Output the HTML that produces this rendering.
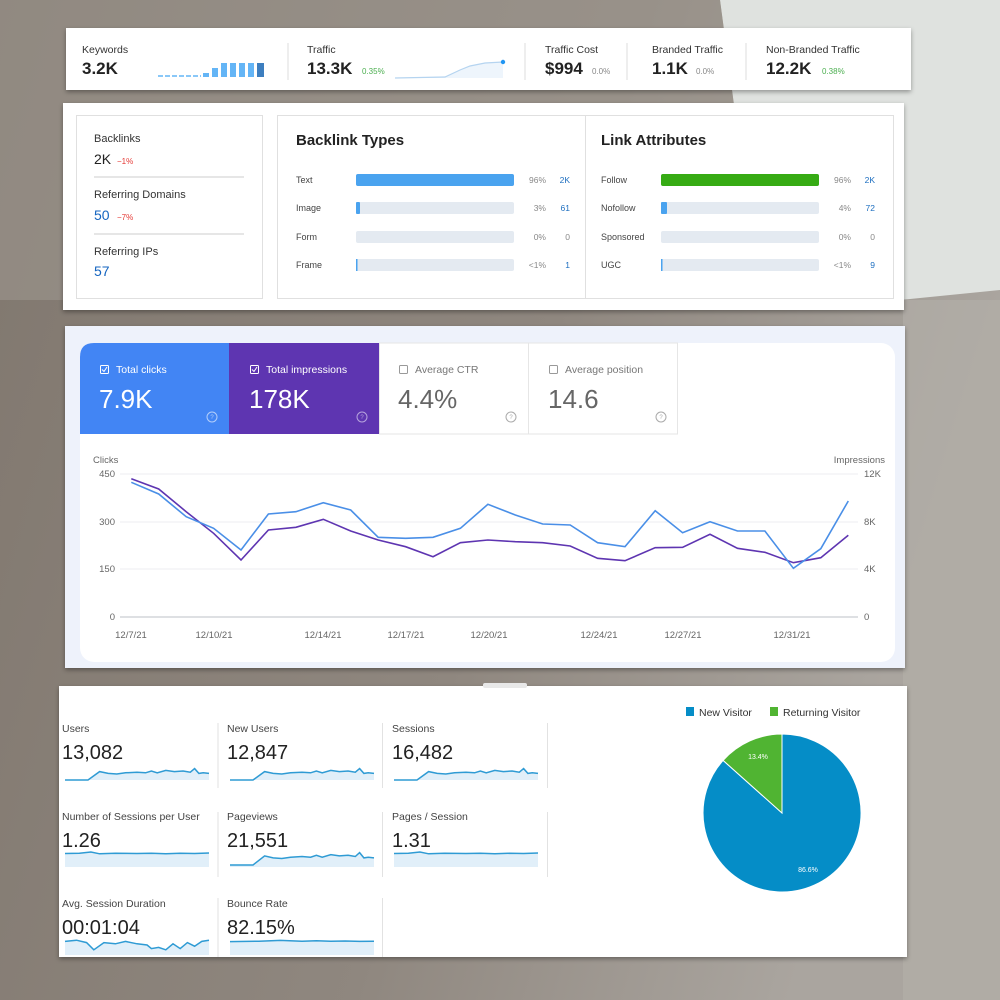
<!DOCTYPE html>
<html><head><meta charset="utf-8"><style>
html,body{margin:0;padding:0;width:1000px;height:1000px;overflow:hidden}
body{background:#8c847c}
svg{display:block;font-family:"Liberation Sans",sans-serif}
</style></head><body>
<svg id="s" width="1000" height="1000" viewBox="0 0 1000 1000" xmlns="http://www.w3.org/2000/svg">
<defs>
<linearGradient id="bg" x1="0" y1="0" x2="1" y2="0.3">
<stop offset="0" stop-color="#80776e"/><stop offset="0.6" stop-color="#8f877f"/><stop offset="1" stop-color="#aaa59f"/>
</linearGradient>
<filter id="sh" x="-5%" y="-10%" width="110%" height="130%"><feDropShadow dx="0" dy="2" stdDeviation="2.5" flood-color="#000" flood-opacity="0.35"/></filter>
</defs>
<rect width="1000" height="1000" fill="url(#bg)"/>
<path d="M720,0 L1000,0 L1000,290 L900,300 L760,300 Z" fill="#dfe2df"/>
<path d="M0,0 L720,0 L760,300 L0,300 Z" fill="#a29b93" opacity="0.5"/>
<rect x="903" y="300" width="97" height="700" fill="#b4b0aa" opacity="0.6"/>

<!-- Top panel -->
<rect x="66" y="28" width="845" height="62" fill="#fff" filter="url(#sh)"/>
<g font-size="10.5" fill="#333">
<text x="82" y="53">Keywords</text>
<text x="307" y="53">Traffic</text>
<text x="545" y="53">Traffic Cost</text>
<text x="652" y="53">Branded Traffic</text>
<text x="766" y="53">Non-Branded Traffic</text>
</g>
<g font-size="17" font-weight="bold" fill="#222">
<text x="82" y="74">3.2K</text>
<text x="307" y="74">13.3K</text>
<text x="545" y="74">$994</text>
<text x="652" y="74">1.1K</text>
<text x="766" y="74">12.2K</text>
</g>
<g font-size="8">
<text x="362" y="74" fill="#4caf50">0.35%</text>
<text x="592" y="74" fill="#888">0.0%</text>
<text x="696" y="74" fill="#888">0.0%</text>
<text x="822" y="74" fill="#4caf50">0.38%</text>
</g>
<g stroke="#ddd"><line x1="288" y1="43" x2="288" y2="80"/><line x1="525" y1="43" x2="525" y2="80"/><line x1="627" y1="43" x2="627" y2="80"/><line x1="746" y1="43" x2="746" y2="80"/></g>
<line x1="158" y1="76" x2="201" y2="76" stroke="#64b5f6" stroke-width="1.5" stroke-dasharray="5,2"/>
<g fill="#64b5f6">
<rect x="203" y="73" width="6" height="4"/><rect x="212" y="68" width="6" height="9"/>
<rect x="221" y="63" width="6" height="14"/><rect x="230" y="63" width="6" height="14"/>
<rect x="239" y="63" width="6" height="14"/><rect x="248" y="63" width="6" height="14"/>
<rect x="257" y="63" width="7" height="14" fill="#3d7ebf"/>
</g>
<path d="M395,78 L445,77 L460,70 L470,66 L485,63 L503,62 L503,78 Z" fill="#eef5fc"/>
<polyline points="395,78 445,77 460,70 470,66 485,63 503,62" fill="none" stroke="#b5d4f0" stroke-width="1.2"/>
<circle cx="503" cy="62" r="2.2" fill="#2196f3"/>

<!-- Backlinks panel -->
<rect x="63" y="103" width="841" height="207" fill="#fff" filter="url(#sh)"/>
<rect x="76.5" y="115.5" width="186" height="183" fill="#fff" stroke="#e0e0e0"/>
<rect x="277.5" y="115.5" width="616" height="183" fill="#fff" stroke="#e0e0e0"/>
<line x1="585.5" y1="116" x2="585.5" y2="298" stroke="#e0e0e0"/>
<g font-size="11" fill="#333">
<text x="94" y="142">Backlinks</text>
<text x="94" y="198">Referring Domains</text>
<text x="94" y="255">Referring IPs</text>
</g>
<text x="94" y="164" font-size="14" fill="#222">2K</text>
<text x="117" y="164" font-size="8" fill="#e53935">−1%</text>
<text x="94" y="220" font-size="14" fill="#1565c0">50</text>
<text x="117" y="220" font-size="8" fill="#e53935">−7%</text>
<text x="94" y="276" font-size="14" fill="#1565c0">57</text>
<line x1="94" y1="177" x2="244" y2="177" stroke="#ddd" stroke-width="1.5"/>
<line x1="94" y1="234" x2="244" y2="234" stroke="#ddd" stroke-width="1.5"/>
<text x="296" y="145" font-size="15" font-weight="bold" fill="#222">Backlink Types</text>
<text x="601" y="145" font-size="15" font-weight="bold" fill="#222">Link Attributes</text>
<g font-size="9" fill="#444">
<text x="296" y="183">Text</text><text x="296" y="211">Image</text><text x="296" y="240">Form</text><text x="296" y="268">Frame</text>
<text x="601" y="183">Follow</text><text x="601" y="211">Nofollow</text><text x="601" y="240">Sponsored</text><text x="601" y="268">UGC</text>
</g>
<g fill="#e4eaf1">
<rect x="356" y="174" width="158" height="12" rx="2"/><rect x="356" y="202" width="158" height="12" rx="2"/>
<rect x="356" y="231" width="158" height="12" rx="2"/><rect x="356" y="259" width="158" height="12" rx="2"/>
<rect x="661" y="174" width="158" height="12" rx="2"/><rect x="661" y="202" width="158" height="12" rx="2"/>
<rect x="661" y="231" width="158" height="12" rx="2"/><rect x="661" y="259" width="158" height="12" rx="2"/>
</g>
<rect x="356" y="174" width="158" height="12" rx="2" fill="#4aa3ef"/>
<rect x="356" y="202" width="4" height="12" rx="1" fill="#4aa3ef"/>
<rect x="356" y="259" width="1.5" height="12" fill="#4aa3ef"/>
<rect x="661" y="174" width="158" height="12" rx="2" fill="#36ab14"/>
<rect x="661" y="202" width="6" height="12" rx="1" fill="#4aa3ef"/>
<rect x="661" y="259" width="1.5" height="12" fill="#4aa3ef"/>
<g font-size="8.5" fill="#888" text-anchor="end">
<text x="546" y="183">96%</text><text x="546" y="211">3%</text><text x="546" y="240">0%</text><text x="546" y="268">&lt;1%</text>
<text x="851" y="183">96%</text><text x="851" y="211">4%</text><text x="851" y="240">0%</text><text x="851" y="268">&lt;1%</text>
</g>
<g font-size="8.5" fill="#1e6fc0" text-anchor="end">
<text x="570" y="183">2K</text><text x="570" y="211">61</text><text x="570" y="240" fill="#888">0</text><text x="570" y="268">1</text>
<text x="875" y="183">2K</text><text x="875" y="211">72</text><text x="875" y="240" fill="#888">0</text><text x="875" y="268">9</text>
</g>

<!-- GSC panel -->
<rect x="65" y="326" width="840" height="342" fill="#eef2fb" filter="url(#sh)"/>
<rect x="80" y="343" width="815" height="319" rx="14" fill="#fff"/>
<path d="M94,343 L229,343 L229,434 L80,434 L80,357 Q80,343 94,343 Z" fill="#4285f4"/>
<rect x="229" y="343" width="150" height="91" fill="#5e35b1"/>
<rect x="379.5" y="343" width="149" height="91" fill="#fff" stroke="#e6e6e6"/>
<rect x="528.5" y="343" width="149" height="91" fill="#fff" stroke="#e6e6e6"/>
<g fill="none" stroke-width="1">
<rect x="100.5" y="365.5" width="8" height="8" rx="1" stroke="#fff"/>
<rect x="250.5" y="365.5" width="8" height="8" rx="1" stroke="#fff"/>
<rect x="399.5" y="365.5" width="8" height="8" rx="1" stroke="#999"/>
<rect x="549.5" y="365.5" width="8" height="8" rx="1" stroke="#999"/>
<polyline points="102,369.5 104,371.5 107,367" stroke="#fff"/>
<polyline points="252,369.5 254,371.5 257,367" stroke="#fff"/>
</g>
<g font-size="10.5">
<text x="116" y="373" fill="#fff">Total clicks</text>
<text x="266" y="373" fill="#fff">Total impressions</text>
<text x="415" y="373" fill="#777">Average CTR</text>
<text x="565" y="373" fill="#777">Average position</text>
</g>
<g font-size="26">
<text x="99" y="408" fill="#fff">7.9K</text>
<text x="249" y="408" fill="#fff">178K</text>
<text x="398" y="408" fill="#666">4.4%</text>
<text x="548" y="408" fill="#666">14.6</text>
</g>
<g fill="none" stroke-width="1">
<circle cx="212" cy="417" r="5" stroke="#b3cefa"/><circle cx="362" cy="417" r="5" stroke="#b6a3dd"/>
<circle cx="511" cy="417" r="5" stroke="#aaa"/><circle cx="661" cy="417" r="5" stroke="#aaa"/>
</g>
<g font-size="6" text-anchor="middle"><text x="212" y="419" fill="#b3cefa">?</text><text x="362" y="419" fill="#b6a3dd">?</text><text x="511" y="419" fill="#aaa">?</text><text x="661" y="419" fill="#aaa">?</text></g>
<g font-size="9.5" fill="#666">
<text x="93" y="463">Clicks</text><text x="885" y="463" text-anchor="end">Impressions</text>
<text x="115" y="477" text-anchor="end">450</text><text x="115" y="525" text-anchor="end">300</text>
<text x="115" y="572" text-anchor="end">150</text><text x="115" y="620" text-anchor="end">0</text>
<text x="864" y="477">12K</text><text x="864" y="525">8K</text><text x="864" y="572">4K</text><text x="864" y="620">0</text>
</g>
<g stroke="#eceef1"><line x1="120" y1="474" x2="858" y2="474"/><line x1="120" y1="522" x2="858" y2="522"/><line x1="120" y1="569" x2="858" y2="569"/></g>
<line x1="120" y1="617" x2="858" y2="617" stroke="#c9cdd2" stroke-width="1.3"/>
<g font-size="9.5" fill="#666" text-anchor="middle">
<text x="131" y="638">12/7/21</text><text x="214" y="638">12/10/21</text><text x="323" y="638">12/14/21</text>
<text x="406" y="638">12/17/21</text><text x="489" y="638">12/20/21</text><text x="599" y="638">12/24/21</text>
<text x="683" y="638">12/27/21</text><text x="792" y="638">12/31/21</text>
</g>
<polyline fill="none" stroke="#5e35b1" stroke-width="1.6" points="131.3,478.7 158.7,489 186.2,511.7 213.6,533.3 241,560 268.4,530 295.9,527.3 323.3,519.3 350.7,531 378.2,540 405.6,546.7 433,556.7 460.4,542.7 487.9,540 515.3,541.7 542.7,542.7 570.2,546 597.6,558.3 625,560.7 655.2,547.7 682.6,547.3 710,534.3 737.5,548.3 764.9,552.3 793.4,562.7 820.8,557.7 848.3,535.3"/>
<polyline fill="none" stroke="#4a8fe7" stroke-width="1.6" points="131.3,482.3 158.7,494 186.2,516.7 213.6,528.3 241,550 268.4,514 295.9,511.7 323.3,502.7 350.7,510 378.2,537.3 405.6,538.3 433,537.3 460.4,528.3 487.9,504.3 515.3,515 542.7,524 570.2,525 597.6,542.7 625,546.7 655.2,510.7 682.6,532.7 710,521.7 737.5,531 764.9,531 793.4,568.3 820.8,548.7 848.3,501"/>

<!-- GA panel -->
<rect x="59" y="686" width="848" height="271" fill="#fff" filter="url(#sh)"/>
<rect x="483" y="683" width="44" height="5" rx="2" fill="#e8e8e8"/>
<g stroke="#e2e2e2">
<line x1="218" y1="723" x2="218" y2="788"/><line x1="382.5" y1="723" x2="382.5" y2="788"/><line x1="547.5" y1="723" x2="547.5" y2="788"/>
<line x1="218" y1="812" x2="218" y2="877"/><line x1="382.5" y1="812" x2="382.5" y2="877"/><line x1="547.5" y1="812" x2="547.5" y2="877"/>
<line x1="218" y1="898" x2="218" y2="957"/><line x1="382.5" y1="898" x2="382.5" y2="957"/>
</g>
<g font-size="10.5" fill="#444">
<text x="62" y="732">Users</text><text x="227" y="732">New Users</text><text x="392" y="732">Sessions</text>
<text x="62" y="820">Number of Sessions per User</text><text x="227" y="820">Pageviews</text><text x="392" y="820">Pages / Session</text>
<text x="62" y="907">Avg. Session Duration</text><text x="227" y="907">Bounce Rate</text>
</g>
<g font-size="20" fill="#222">
<text x="62" y="759">13,082</text><text x="227" y="759">12,847</text><text x="392" y="759">16,482</text>
<text x="62" y="847">1.26</text><text x="227" y="847">21,551</text><text x="392" y="847">1.31</text>
<text x="62" y="934">00:01:04</text><text x="227" y="934">82.15%</text>
</g>
<g id="sp"></g>
<rect x="686" y="707" width="8" height="9" fill="#058dc7"/>
<text x="699" y="716" font-size="10.5" fill="#333">New Visitor</text>
<rect x="770" y="707" width="8" height="9" fill="#50b432"/>
<text x="783" y="716" font-size="10.5" fill="#333">Returning Visitor</text>
<path d="M782,813 L723.1,760.4 A79,79 0 1,0 782,734 Z" fill="#058dc7" stroke="#fff" stroke-width="1"/>
<path d="M782,813 L782,734 A79,79 0 0,0 723.1,760.4 Z" fill="#50b432" stroke="#fff" stroke-width="1"/>
<text x="758" y="759" font-size="7" fill="#fff" text-anchor="middle">13.4%</text>
<text x="808" y="872" font-size="7" fill="#fff" text-anchor="middle">86.6%</text>
</svg>
<script>
var G=[[0,1],[.16,1],[.24,.3],[.3,.45],[.36,.5],[.42,.4],[.5,.35],[.56,.4],[.6,.25],[.64,.4],[.7,.2],[.76,.3],[.82,.25],[.87,.35],[.9,.05],[.93,.45],[.96,.4],[1,.45]];
var F=[[0,.3],[.1,.25],[.18,0],[.24,.35],[.35,.25],[.5,.3],[.6,.25],[.7,.35],[.8,.25],[.9,.3],[1,.2]];
var D=[[0,.2],[.08,.1],[.15,.3],[.2,.9],[.27,.3],[.35,.4],[.42,.2],[.5,.4],[.57,.5],[.6,.8],[.65,.7],[.7,.9],[.75,.4],[.8,.8],[.85,.3],[.9,.6],[.95,.2],[1,.1]];
var B=[[0,.4],[.2,.3],[.35,.1],[.5,.3],[.6,.2],[.7,.3],[.8,.25],[.9,.35],[1,.3]];
var list=[[65,768,12,780,G],[230,768,12,780,G],[394,768,12,780,G],
[65,852,5,867,F],[230,852,13,867,G],[394,852,5,867,F],
[65,939,12,955,D],[230,940,4,955,B]];
var h="";
list.forEach(function(l){var p=l[4].map(function(q){return (l[0]+q[0]*144).toFixed(1)+","+(l[1]+q[1]*l[2]).toFixed(1)}).join(" ");
h+='<polygon points="'+l[0]+','+l[3]+' '+p+' '+(l[0]+144)+','+l[3]+'" fill="#e1eff9"/>';
h+='<polyline points="'+p+'" fill="none" stroke="#2f9bd4" stroke-width="1.5"/>';});
document.getElementById("sp").innerHTML=h;
</script>
</body></html>
